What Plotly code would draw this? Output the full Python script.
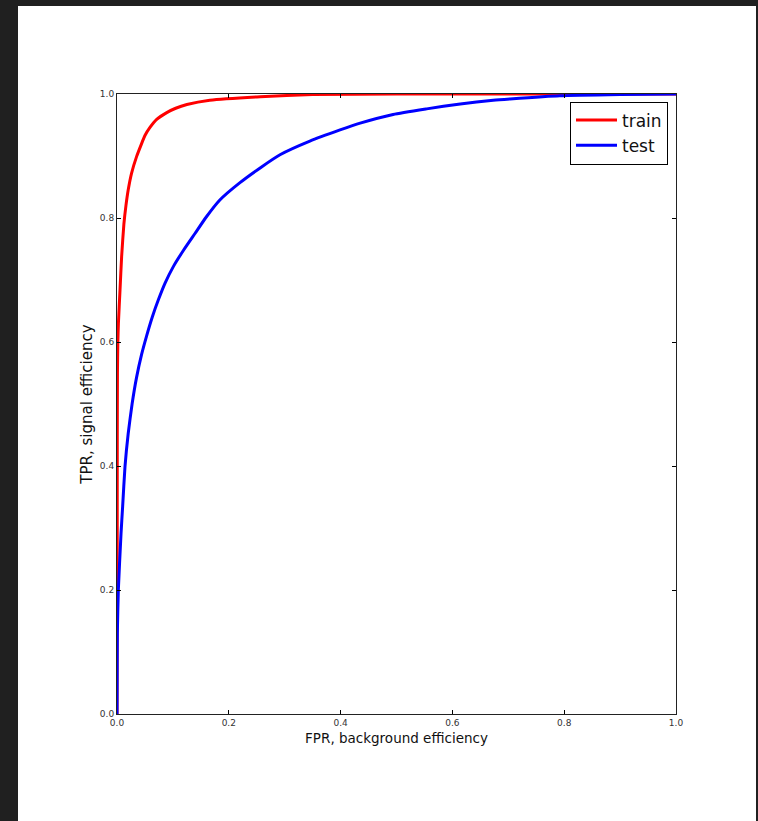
import plotly.graph_objects as go

# ROC curves: false positive rate (background efficiency) vs true positive rate (signal efficiency)
train_fpr = [0.0, 0.0003, 0.0005, 0.0008, 0.0015, 0.0025, 0.0054, 0.0083, 0.0123, 0.016,
             0.020, 0.026, 0.035, 0.044, 0.050, 0.059, 0.071, 0.089, 0.105, 0.125,
             0.166, 0.256, 0.35, 0.5, 1.0]
train_tpr = [0.0, 0.2, 0.45, 0.55, 0.6, 0.63, 0.684, 0.738, 0.79, 0.82,
             0.845, 0.872, 0.899, 0.920, 0.933, 0.946, 0.959, 0.970, 0.977, 0.983,
             0.990, 0.9957, 0.999, 1.0, 1.0]

test_fpr = [0.0, 0.0003, 0.0006, 0.0024, 0.0072, 0.0101, 0.0143, 0.020, 0.027, 0.035,
            0.044, 0.053, 0.063, 0.074, 0.086, 0.101, 0.119, 0.1395, 0.160, 0.184,
            0.220, 0.258, 0.2916, 0.345, 0.399, 0.435, 0.494, 0.554, 0.614, 0.673,
            0.703, 0.792, 0.9, 1.0]
test_tpr = [0.0, 0.08, 0.13, 0.2, 0.291, 0.335, 0.399, 0.452, 0.5, 0.543,
            0.58, 0.61, 0.64, 0.668, 0.695, 0.722, 0.748, 0.775, 0.802, 0.829,
            0.857, 0.882, 0.902, 0.924, 0.942, 0.953, 0.967, 0.976, 0.984, 0.990,
            0.992, 0.997, 0.999, 1.0]

tick_vals = [0.0, 0.2, 0.4, 0.6, 0.8, 1.0]
tick_text = ["0.0", "0.2", "0.4", "0.6", "0.8", "1.0"]

W, H = 758, 821
ML, MR, MT, MB = 117, 82, 94, 107
PW, PH = W - ML - MR, H - MT - MB

fig = go.Figure()
fig.add_trace(go.Scatter(x=train_fpr, y=train_tpr, mode="lines", name="train",
                         line=dict(color="#ff0000", width=3, shape="spline", smoothing=0.5)))
fig.add_trace(go.Scatter(x=test_fpr, y=test_tpr, mode="lines", name="test",
                         line=dict(color="#0000ff", width=3, shape="spline", smoothing=0.5)))

axis_common = dict(
    range=[0, 1], tickvals=tick_vals, ticktext=tick_text,
    ticks="inside", ticklen=4, tickwidth=1, tickcolor="#000",
    showline=True, linecolor="#222", linewidth=1, mirror="ticks",
    showgrid=False, zeroline=False,
    tickfont=dict(family="DejaVu Sans", size=9, color="#333"),
)

fig.update_xaxes(**axis_common,
                 title=dict(text="FPR, background efficiency", standoff=6,
                            font=dict(family="DejaVu Sans", size=13.5, color="#111")))
fig.update_yaxes(**axis_common,
                 title=dict(text="TPR, signal efficiency", standoff=3,
                            font=dict(family="DejaVu Sans", size=15, color="#111")))


def px_x(p):
    return (p - ML) / PW


def px_y(q):
    return (H - MB - q) / PH


# dark window frame around the figure canvas
frame = "#202020"
strips = [
    (px_x(0), px_x(18), px_y(H), px_y(0)),
    (px_x(0), px_x(W), px_y(6), px_y(0)),
    (px_x(756), px_x(W), px_y(H), px_y(0)),
]
for x0, x1, y0, y1 in strips:
    fig.add_shape(type="rect", xref="paper", yref="paper", x0=x0, x1=x1, y0=y0, y1=y1,
                  fillcolor=frame, line=dict(width=0), layer="above")

fig.update_layout(
    width=W, height=H,
    margin=dict(l=ML, r=MR, t=MT, b=MB, autoexpand=False),
    paper_bgcolor="white", plot_bgcolor="white",
    showlegend=True,
    legend=dict(x=px_x(668), y=px_y(101.5), xanchor="right", yanchor="top",
                bgcolor="white", bordercolor="#000", borderwidth=1,
                font=dict(family="DejaVu Sans", size=17, color="#111"),
                tracegroupgap=0, itemwidth=41),
)

fig.write_html("out.html")
